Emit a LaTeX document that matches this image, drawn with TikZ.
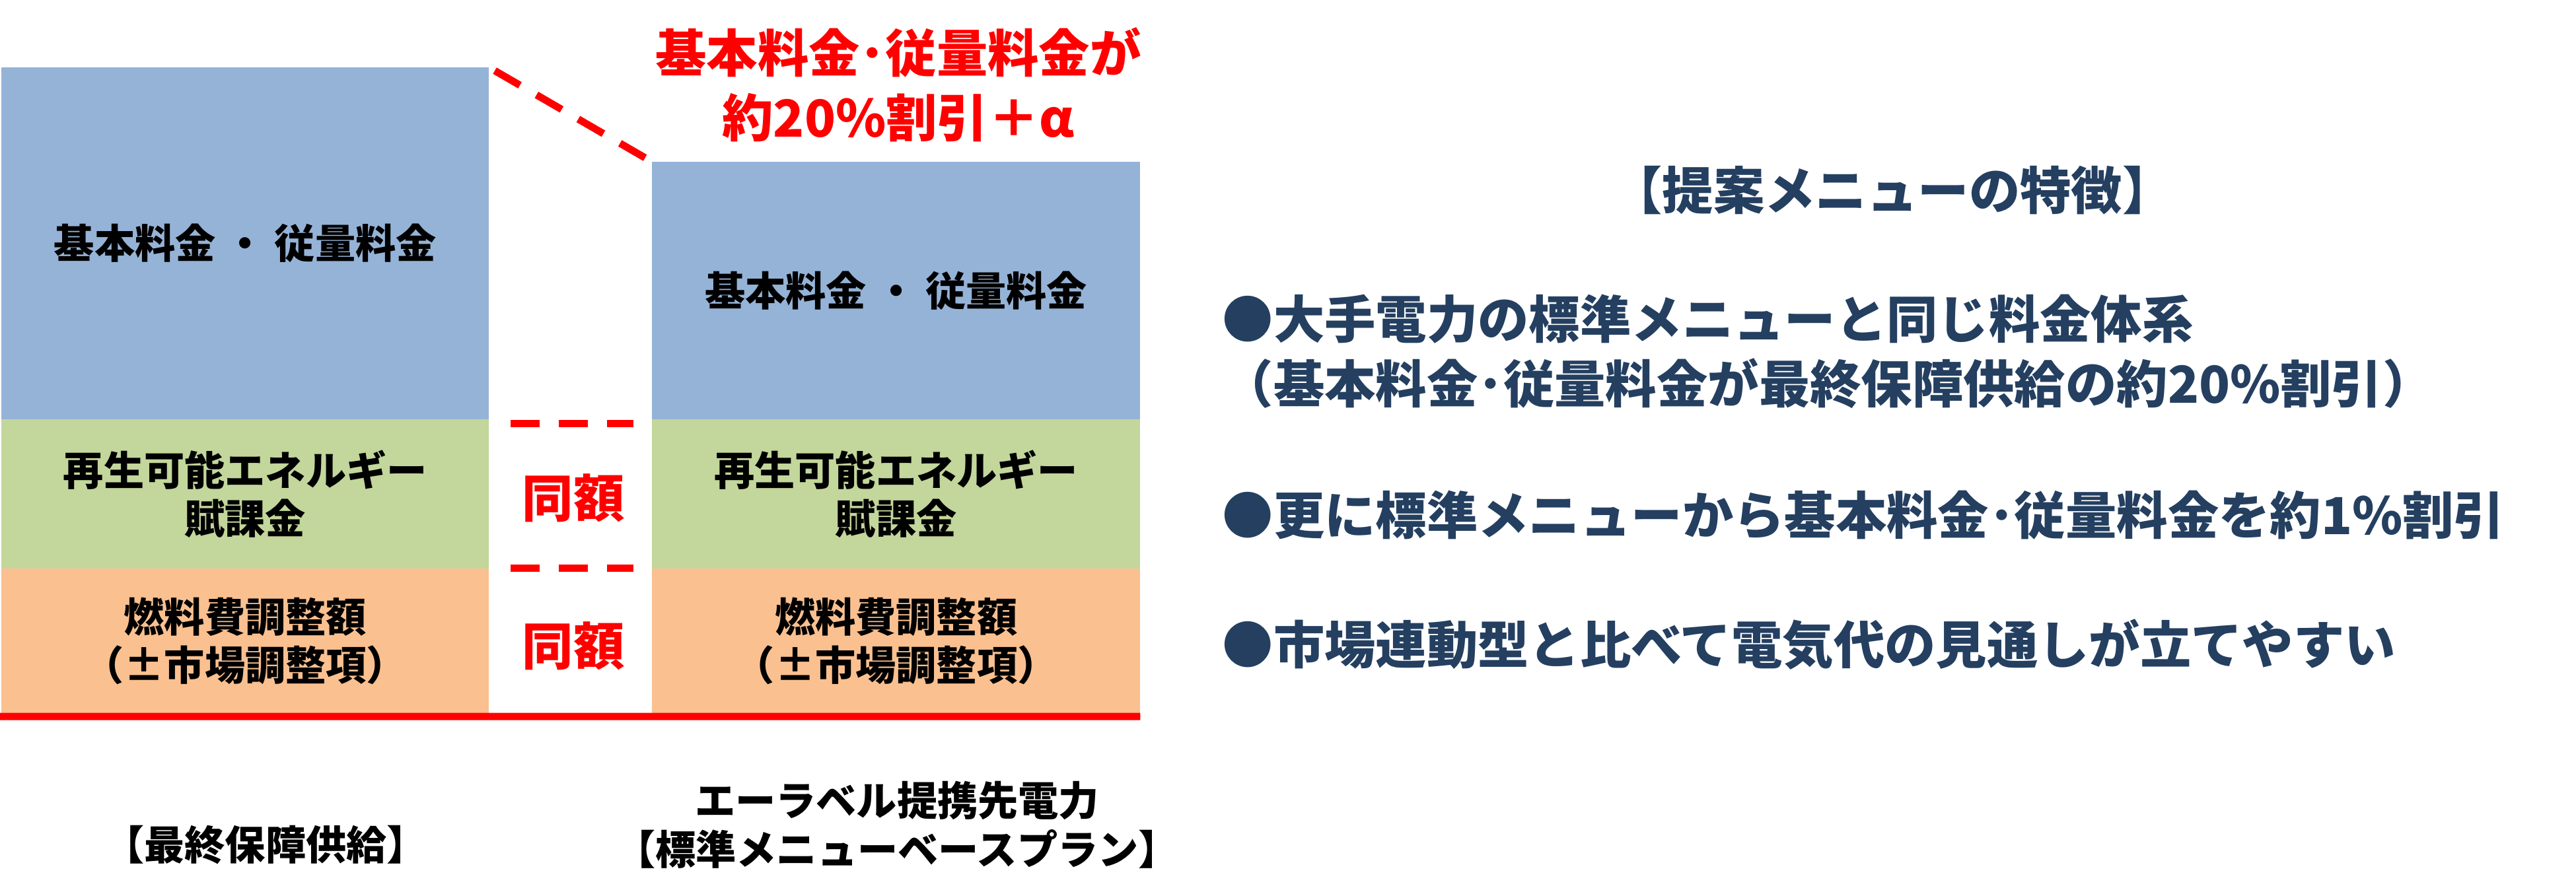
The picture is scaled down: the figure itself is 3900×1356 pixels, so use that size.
\documentclass[tikz,border=0pt]{standalone}
\usepackage{fontspec}
\setmainfont{Noto Sans CJK JP}
\definecolor{cblue}{HTML}{95B3D7}
\definecolor{cgreen}{HTML}{C3D69B}
\definecolor{corange}{HTML}{FAC090}
\definecolor{cnavy}{HTML}{243F60}
\definecolor{cred}{HTML}{FF0000}
\tikzset{
  barbox/.style={inner sep=0pt, outer sep=0pt, anchor=north west, align=center,
    font=\bfseries\fontsize{17.4}{20.7}\selectfont, text=black},
  redtxt/.style={inner sep=0pt, align=center, text=cred,
    font=\bfseries\fontsize{22}{28}\selectfont},
  lbl/.style={inner sep=0pt, align=center, text=black,
    font=\bfseries\fontsize{17.4}{21}\selectfont},
  feat/.style={inner sep=0pt, anchor=west, text=cnavy,
    font=\bfseries\fontsize{22}{26}\selectfont},
  reddash/.style={draw=cred, line width=0.11cm, dash pattern=on 0.44cm off 0.29cm},
  redline/.style={draw=cred, line width=0.11cm}
}
\begin{document}
\begin{tikzpicture}[x=0.01cm,y=-0.01cm]
\useasboundingbox (0,0) rectangle (3900,1356);
% left column
\node[barbox, fill=cblue, minimum width=7.38cm, minimum height=5.33cm] (lb) at (2,102) {基本料金 ・ 従量料金};
\node[barbox, fill=cgreen, minimum width=7.38cm, minimum height=2.26cm] (lg) at (2,635) {再生可能エネルギー\\賦課金};
\node[barbox, fill=corange, minimum width=7.38cm, minimum height=2.19cm] (lo) at (2,861) {燃料費調整額\\（±市場調整項）};
% right column
\node[barbox, fill=cblue, minimum width=7.39cm, minimum height=3.90cm] (rb) at (987,245) {基本料金 ・ 従量料金};
\node[barbox, fill=cgreen, minimum width=7.39cm, minimum height=2.26cm] (rg) at (987,635) {再生可能エネルギー\\賦課金};
\node[barbox, fill=corange, minimum width=7.39cm, minimum height=2.19cm] (ro) at (987,861) {燃料費調整額\\（±市場調整項）};
% baseline
\draw[redline] ([shift={(-2,5)}]lo.south west) -- ([yshift=-0.05cm]ro.south east);
% dashed connectors
\draw[reddash, shorten <=0.1cm, shorten >=0.12cm] (lb.north east) -- (rb.north west);
\coordinate (d1a) at (773,641); \coordinate (d1b) at (959,641);
\coordinate (d2a) at (773,860); \coordinate (d2b) at (959,860);
\draw[reddash] (d1a) -- (d1b);
\draw[reddash] (d2a) -- (d2b);
% red texts
\node[redtxt] (same1) at (868,754) {同額};
\node[redtxt] (same2) at (868,978) {同額};
\node[redtxt] (title) at (1360,128) {基本料金･従量料金が\\約20\%割引＋α};
% bottom labels
\node[lbl] (lab1) at (402,1280) {【最終保障供給】};
\node[lbl] (lab2) at (1358,1249) {エーラベル提携先電力\\【標準メニューベースプラン】};
% features
\node[inner sep=0pt, text=cnavy, font=\bfseries\fontsize{22}{26}\selectfont] (ft) at (2865,288) {【提案メニューの特徴】};
\node[feat] (f1) at (1850,483) {●大手電力の標準メニューと同じ料金体系};
\node[feat] (f2) at (1850,581) {（基本料金･従量料金が最終保障供給の約20\%割引）};
\node[feat] (f3) at (1850,780) {●更に標準メニューから基本料金･従量料金を約1\%割引};
\node[feat] (f4) at (1850,976) {●市場連動型と比べて電気代の見通しが立てやすい};
\end{tikzpicture}
\end{document}
